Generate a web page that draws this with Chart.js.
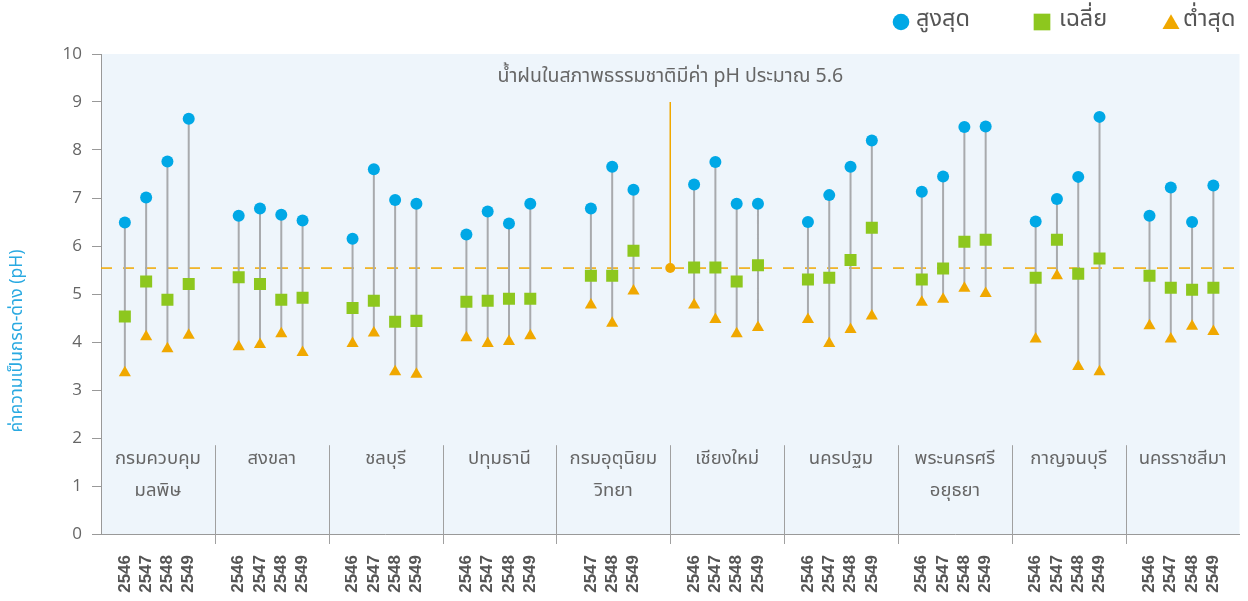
<!DOCTYPE html>
<html>
<head>
<meta charset="utf-8">
<script src="https://cdn.jsdelivr.net/npm/chart.js@4.4.1/dist/chart.umd.min.js"></script>
<style>
  html, body { margin: 0; padding: 0; background: #fff; }
  canvas { display: block; }
</style>
</head>
<body>
<canvas id="myChart" width="1248" height="601"></canvas>
<script>
// station groups (each label line is one entry)
const stations = [
    ['กรมควบคุม', 'มลพิษ'], ['สงขลา'], ['ชลบุรี'], ['ปทุมธานี'], ['กรมอุตุนิยม', 'วิทยา'],
    ['เชียงใหม่'], ['นครปฐม'], ['พระนครศรี', 'อยุธยา'], ['กาญจนบุรี'], ['นครราชสีมา']
];
const years = [
    [2546, 2547, 2548, 2549], [2546, 2547, 2548, 2549], [2546, 2547, 2548, 2549],
    [2546, 2547, 2548, 2549], [2547, 2548, 2549], [2546, 2547, 2548, 2549],
    [2546, 2547, 2548, 2549], [2546, 2547, 2548, 2549], [2546, 2547, 2548, 2549],
    [2546, 2547, 2548, 2549]
];
const highPH = [
    [6.49, 7.01, 7.76, 8.65], [6.63, 6.78, 6.65, 6.53], [6.15, 7.60, 6.96, 6.88],
    [6.24, 6.72, 6.47, 6.88], [6.78, 7.65, 7.17], [7.28, 7.75, 6.88, 6.88],
    [6.50, 7.06, 7.65, 8.20], [7.13, 7.45, 8.48, 8.49], [6.51, 6.98, 7.44, 8.69],
    [6.63, 7.22, 6.50, 7.26]
];
const meanPH = [
    [4.53, 5.26, 4.88, 5.21], [5.35, 5.21, 4.88, 4.92], [4.71, 4.86, 4.42, 4.44],
    [4.84, 4.86, 4.90, 4.90], [5.38, 5.38, 5.90], [5.55, 5.55, 5.26, 5.60],
    [5.30, 5.34, 5.71, 6.38], [5.30, 5.53, 6.09, 6.13], [5.34, 6.13, 5.42, 5.74],
    [5.38, 5.13, 5.09, 5.13]
];
const lowPH = [
    [3.36, 4.11, 3.86, 4.14], [3.90, 3.95, 4.17, 3.78], [3.97, 4.19, 3.38, 3.33],
    [4.09, 3.97, 4.01, 4.13], [4.77, 4.39, 5.06], [4.77, 4.47, 4.17, 4.30],
    [4.47, 3.97, 4.26, 4.54], [4.83, 4.89, 5.12, 5.01], [4.06, 5.38, 3.49, 3.38],
    [4.34, 4.06, 4.33, 4.22]
];
const naturalPH = 5.54;
const noteText = 'น้ำฝนในสภาพธรรมชาติมีค่า pH ประมาณ 5.6';
const yTitle = 'ค่าความเป็นกรด-ด่าง (pH)';
const legendNames = ['สูงสุด', 'เฉลี่ย', 'ต่ำสุด'];

const BLUE = '#00a8e6';
const GREEN = '#8dc71e';
const ORANGE = '#f0a800';
const STEM = '#a8aaad';
const THAI = "'Noto Sans Thai', 'Noto Sans', 'DejaVu Sans', sans-serif";

// each year sits on its own slot inside the station's band
const slot = 0.187;
const xs = [], yearLabels = [], highPts = [], meanPts = [], lowPts = [], stems = [];
years.forEach((ys, g) => {
    ys.forEach((yr, k) => {
        const x = g + 0.49 + (k - (ys.length - 1) / 2) * slot;
        xs.push(x);
        yearLabels.push(String(yr));
        highPts.push({ x: x, y: highPH[g][k] });
        meanPts.push({ x: x, y: meanPH[g][k] });
        lowPts.push({ x: x, y: lowPH[g][k] });
        stems.push({ x: x, y: lowPH[g][k] }, { x: x, y: highPH[g][k] }, { x: x, y: null });
    });
});

const decor = {
    id: 'decor',
    beforeDraw(chart) {
        const { ctx, chartArea: a } = chart;
        ctx.save();
        ctx.fillStyle = '#eef5fb';
        ctx.fillRect(a.left, a.top, a.right - a.left, a.bottom - a.top);
        ctx.restore();
    },
    afterDatasetsDraw(chart) {
        const { ctx, chartArea: a, scales: { x, y } } = chart;
        ctx.save();
        // group separators
        ctx.strokeStyle = '#a0a0a0';
        ctx.lineWidth = 1;
        for (let g = 1; g < stations.length; g++) {
            const px = Math.round(x.getPixelForValue(g)) + 0.5;
            ctx.beginPath();
            ctx.moveTo(px, y.getPixelForValue(1.85));
            ctx.lineTo(px, a.bottom + 10);
            ctx.stroke();
        }
        // group names
        ctx.fillStyle = '#666';
        ctx.font = '18.5px ' + THAI;
        ctx.textAlign = 'center';
        ctx.textBaseline = 'middle';
        stations.forEach((lines, g) => {
            lines.forEach((t, i) => {
                ctx.fillText(t, x.getPixelForValue(g + 0.5), y.getPixelForValue(1.54) + i * 32);
            });
        });
        // note above the reference marker
        ctx.font = '19.5px ' + THAI;
        ctx.fillText(noteText, x.getPixelForValue(5), y.getPixelForValue(9.5));
        // y title
        ctx.save();
        ctx.translate(18, y.getPixelForValue(4.02));
        ctx.rotate(-Math.PI / 2);
        ctx.fillStyle = '#29a9e1';
        ctx.font = '17.5px ' + THAI;
        ctx.fillText(yTitle, 0, 0);
        ctx.restore();
        // legend
        const items = [
            { style: 'circle', r: 8.3, c: BLUE, cx: 901, tx: 916 },
            { style: 'rect', r: 11.8, c: GREEN, cx: 1042, tx: 1059 },
            { style: 'triangle', r: 9.8, c: ORANGE, cx: 1171, tx: 1183 }
        ];
        ctx.font = '23.5px ' + THAI;
        ctx.textAlign = 'left';
        items.forEach((it, i) => {
            ctx.fillStyle = it.c;
            Chart.helpers.drawPoint(ctx, { pointStyle: it.style, radius: it.r, rotation: 0, borderWidth: 0 }, it.cx, it.style === 'triangle' ? 24 : 22);
            ctx.fillStyle = '#555';
            ctx.fillText(legendNames[i], it.tx, 21);
        });
        ctx.restore();
    }
};

const ctx = document.getElementById('myChart').getContext('2d');
const chart = new Chart(ctx, {
    type: 'scatter',
    data: {
        datasets: [
            { label: legendNames[0], data: highPts, pointStyle: 'circle', pointRadius: 6, backgroundColor: BLUE, borderWidth: 0, order: 1 },
            { label: legendNames[1], data: meanPts, pointStyle: 'rect', pointRadius: 8.5, backgroundColor: GREEN, borderWidth: 0, order: 2 },
            { label: legendNames[2], data: lowPts, pointStyle: 'triangle', pointRadius: 7, backgroundColor: ORANGE, borderWidth: 0, order: 3 },
            { type: 'line', data: stems, showLine: true, spanGaps: false, borderColor: STEM, borderWidth: 2, pointRadius: 0, order: 5 },
            { type: 'line', data: [{ x: 5, y: naturalPH }, { x: 5, y: 9 }], borderColor: ORANGE, borderWidth: 1.5,
              pointRadius: [5, 0], pointBackgroundColor: ORANGE, pointBorderWidth: 0, order: 4 },
            { type: 'line', data: [{ x: 0, y: naturalPH }, { x: 10, y: naturalPH }], borderColor: ORANGE, borderWidth: 1.5,
              borderDash: [11, 11], pointRadius: 0, order: 6 }
        ]
    },
    options: {
        responsive: false,
        devicePixelRatio: 1,
        animation: false,
        layout: { padding: { top: 54, right: 7, left: 0, bottom: 0 } },
        plugins: { legend: { display: false }, tooltip: { enabled: false } },
        scales: {
            x: {
                type: 'linear', min: 0, max: 10,
                afterBuildTicks: (s) => { s.ticks = xs.map(v => ({ value: v })); },
                afterFit: (s) => { s.height = 67; },
                grid: { display: false },
                border: { color: '#999', width: 1 },
                ticks: {
                    autoSkip: false, minRotation: 90, maxRotation: 90, padding: 13,
                    color: '#555', font: { family: 'Liberation Sans', size: 17, weight: 'bold' },
                    callback: (v, i) => yearLabels[i]
                }
            },
            y: {
                min: 0, max: 10,
                afterFit: (s) => { s.width = 101; },
                grid: { drawOnChartArea: false, tickLength: 9, color: '#999' },
                border: { color: '#999', width: 1 },
                ticks: { stepSize: 1, padding: 10, color: '#666', font: { family: 'Open Sans', size: 17 } }
            }
        }
    },
    plugins: [decor]
});
</script>
</body>
</html>
